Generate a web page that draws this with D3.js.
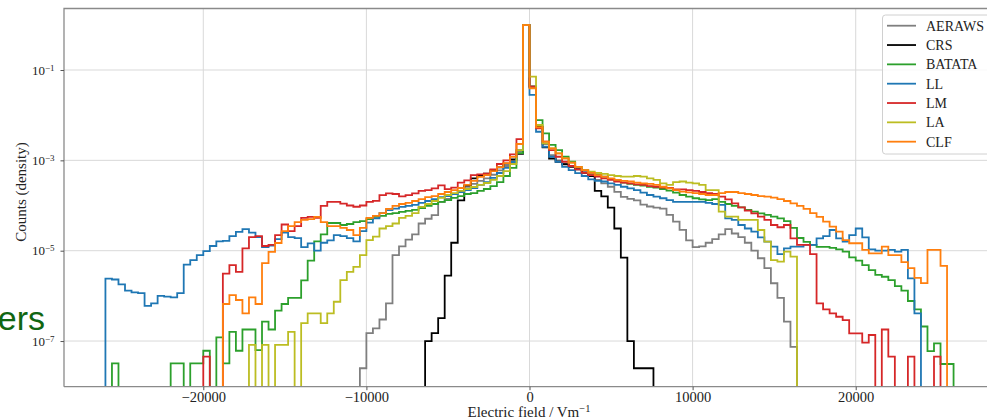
<!DOCTYPE html>
<html><head><meta charset="utf-8">
<script src="https://cdn.jsdelivr.net/npm/d3@7"></script>
<style>body{margin:0;background:#fff}svg{display:block}</style>
</head><body>
<svg id="chart" width="987" height="420"></svg>
<script>
// ---- histogram bins (Electric field, V/m) ----
const binStart = -26000, binWidth = 400, binCount = 130;

// ---- series (density per bin, 0 = empty bin), bins 0..129 ----
const AERAWS = [
0,0,0,0,0,0,0,0,0,0,
0,0,0,0,0,0,0,0,0,0,
0,0,0,0,0,0,0,0,0,0,
0,0,0,0,0,0,0,0,0,2.5e-8,
1.5e-7,1.9e-7,3.0e-7,6.8e-7,8.0e-6,1.25e-5,1.75e-5,2.3e-5,4.0e-5,5.1e-5,
6.1e-5,1.2e-4,1.4e-4,1.8e-4,2.1e-4,2.6e-4,3.0e-4,3.5e-4,4.0e-4,4.8e-4,
6.0e-4,7.5e-4,1.0e-3,1.6e-3,0.99,4.3e-2,5.5e-3,2.3e-3,1.3e-3,1.0e-3,
8.5e-4,7.5e-4,6.5e-4,5.6e-4,4.8e-4,3.7e-4,3.1e-4,2.6e-4,2.0e-4,1.55e-4,
1.4e-4,1.3e-4,1.05e-4,9.5e-5,9.0e-5,8.5e-5,6.2e-5,4.4e-5,2.9e-5,1.7e-5,
1.2e-5,1.25e-5,1.5e-5,1.8e-5,2.3e-5,3.0e-5,2.4e-5,2.0e-5,1.5e-5,1.0e-5,
6.8e-6,4.1e-6,1.9e-6,9.0e-7,2.7e-7,7.4e-8,0,0,0,0,
0,0,0,0,0,0,0,0,0,0,
0,0,0,0,0,0,0,0,0,0];
const CRS = [
0,0,0,0,0,0,0,0,0,0,
0,0,0,0,0,0,0,0,0,0,
0,0,0,0,0,0,0,0,0,0,
0,0,0,0,0,0,0,0,0,0,
0,0,0,0,0,0,0,0,0,1.0e-7,
1.5e-7,3.2e-7,2.8e-6,1.5e-5,1.3e-4,2.8e-4,4.0e-4,4.6e-4,5.1e-4,6.0e-4,
7.0e-4,8.5e-4,1.05e-3,1.4e-3,0.99,4.3e-2,5.6e-3,1.95e-3,1.1e-3,9.3e-4,
8.2e-4,7.2e-4,6.3e-4,5.3e-4,4.5e-4,2.1e-4,1.6e-4,9.0e-5,3.1e-5,7.0e-6,
1.0e-7,2.5e-8,2.5e-8,2.5e-8,0,0,0,0,0,0,
0,0,0,0,0,0,0,0,0,0,
0,0,0,0,0,0,0,0,0,0,
0,0,0,0,0,0,0,0,0,0,
0,0,0,0,0,0,0,0,0,0];
const BATATA = [
0,3.2e-8,0,0,0,0,0,0,0,0,
3.2e-8,3.2e-8,0,3.2e-8,3.2e-8,6.1e-8,0,1.2e-7,3.2e-8,1.6e-7,
6.1e-8,1.8e-7,1.8e-7,6.3e-8,2.7e-7,1.8e-7,4.7e-7,6.6e-7,9.0e-7,9.0e-7,
2.2e-6,6.0e-6,1.6e-5,2.3e-5,4.1e-5,4.1e-5,3.7e-5,3.9e-5,4.3e-5,4.5e-5,
5.0e-5,5.6e-5,5.9e-5,6.5e-5,6.8e-5,7.2e-5,7.6e-5,8.0e-5,8.8e-5,9.8e-5,
1.08e-4,1.2e-4,1.32e-4,1.47e-4,1.62e-4,1.8e-4,1.89e-4,2.1e-4,2.32e-4,2.7e-4,
3.3e-4,4.5e-4,6.8e-4,1.45e-3,0.99,4.27e-2,7.8e-3,3.97e-3,2.19e-3,1.69e-3,
1.2e-3,9.3e-4,7.2e-4,6.1e-4,5.3e-4,4.9e-4,4.35e-4,3.9e-4,3.5e-4,3.2e-4,
3.0e-4,2.85e-4,2.75e-4,2.6e-4,2.48e-4,2.32e-4,2.13e-4,1.92e-4,1.71e-4,1.57e-4,
1.45e-4,1.37e-4,1.32e-4,1.39e-4,1.21e-4,1.08e-4,9.8e-5,9.1e-5,8.0e-5,7.3e-5,
6.7e-5,6.2e-5,5.65e-5,5.2e-5,4.5e-5,3.2e-5,1.91e-5,1.56e-5,1.34e-5,1.21e-5,
1.21e-5,1.15e-5,1.07e-5,9.5e-6,7.1e-6,6.0e-6,4.8e-6,3.7e-6,2.9e-6,2.65e-6,
2.24e-6,1.65e-6,1.3e-6,7.7e-7,5.0e-7,2.1e-7,6.0e-8,8.9e-8,3.1e-8,3.1e-8];
const LL = [
2.4e-6,2.3e-6,1.8e-6,1.3e-6,1.2e-6,1.15e-6,6.0e-7,6.8e-7,1.0e-6,9.6e-7,
9.3e-7,1.15e-6,4.9e-6,6.2e-6,8.0e-6,9.8e-6,1.27e-5,1.6e-5,1.65e-5,2.1e-5,
2.6e-5,3.0e-5,2.5e-5,2.0e-5,1.2e-5,1.3e-5,1.8e-5,2.5e-5,2.0e-5,1.9e-5,
1.2e-5,1.45e-5,1.0e-5,1.5e-5,1.7e-5,2.2e-5,2.1e-5,1.9e-5,1.6e-5,2.7e-5,
4.2e-5,5.2e-5,6.8e-5,7.9e-5,8.5e-5,9.3e-5,9.8e-5,1.03e-4,1.14e-4,1.26e-4,
1.39e-4,1.54e-4,1.62e-4,1.8e-4,1.99e-4,2.2e-4,2.44e-4,2.85e-4,3.3e-4,4.1e-4,
5.25e-4,6.8e-4,9.2e-4,1.69e-3,0.99,2.8e-2,4.3e-3,2.0e-3,1.2e-3,9.3e-4,
7.2e-4,6.1e-4,5.2e-4,4.5e-4,3.8e-4,3.5e-4,3.4e-4,3.1e-4,2.85e-4,2.6e-4,
2.4e-4,2.2e-4,1.92e-4,1.71e-4,1.57e-4,1.45e-4,1.32e-4,1.21e-4,1.21e-4,1.21e-4,
1.2e-4,1.2e-4,1.14e-4,1.08e-4,1.03e-4,5.2e-5,4.8e-5,3.7e-5,3.1e-5,2.63e-5,
1.98e-5,1.58e-5,1.23e-5,8.4e-6,1.13e-5,1.23e-5,1.23e-5,1.34e-5,1.34e-5,1.88e-5,
2.11e-5,2.87e-5,1.88e-5,1.58e-5,2.22e-5,3.1e-5,1.98e-5,1.07e-5,1.0e-5,1.0e-5,
1.04e-5,9.5e-6,1.04e-5,2.45e-6,4.1e-7,0,0,0,0,0];
const LM = [
0,0,0,0,0,0,0,0,0,0,
0,0,0,0,0,4.5e-8,0,0,3.1e-6,4.8e-6,
3.4e-6,1.13e-5,2.0e-5,2.1e-5,1.27e-5,1.34e-5,2.2e-5,3.8e-5,2.7e-5,3.5e-5,
5.3e-5,5.6e-5,5.3e-5,9.8e-5,1.2e-4,1.2e-4,1.1e-4,1.0e-4,9.4e-5,1.0e-4,
1.2e-4,1.27e-4,1.7e-4,1.86e-4,1.8e-4,1.6e-4,1.7e-4,1.86e-4,2.1e-4,2.2e-4,
2.4e-4,2.8e-4,2.3e-4,2.5e-4,3.2e-4,3.6e-4,4.7e-4,4.9e-4,5.1e-4,6.3e-4,
8.3e-4,1.0e-3,1.36e-3,2.95e-3,0.99,4.27e-2,5.1e-3,2.59e-3,1.69e-3,1.2e-3,
9.3e-4,7.5e-4,6.3e-4,5.3e-4,4.7e-4,4.35e-4,4.0e-4,3.7e-4,3.4e-4,3.2e-4,
3.1e-4,2.95e-4,2.85e-4,2.7e-4,2.6e-4,2.5e-4,2.44e-4,2.28e-4,2.28e-4,2.2e-4,
2.1e-4,1.99e-4,1.89e-4,1.8e-4,1.57e-4,1.37e-4,1.12e-4,9.1e-5,7.7e-5,6.7e-5,
5.65e-5,4.8e-5,3.7e-5,3.3e-5,3.7e-5,1.88e-5,1.34e-5,1.34e-5,8.4e-6,6.8e-7,
5.0e-7,4.1e-7,3.45e-7,2.9e-7,1.48e-7,1.48e-7,9.2e-8,1.36e-7,0,1.8e-7,
4.5e-8,0,0,4.5e-8,0,0,0,4.5e-8,0,0];
const LA = [
0,0,0,0,0,0,0,0,0,0,
0,0,0,0,0,0,0,0,0,0,
0,0,8.2e-8,0,8.2e-8,0,8.2e-8,8.2e-8,1.6e-7,0,
2.5e-7,4.1e-7,4.1e-7,2.5e-7,4.1e-7,7.4e-7,2.24e-6,3.4e-6,4.4e-6,8.0e-6,
1.72e-5,2.04e-5,3.1e-5,3.5e-5,4.0e-5,5.3e-5,5.9e-5,6.8e-5,9.3e-5,1.08e-4,
1.26e-4,1.47e-4,1.71e-4,1.89e-4,2.1e-4,2.32e-4,2.57e-4,2.85e-4,3.15e-4,3.7e-4,
4.5e-4,5.8e-4,8.3e-4,1.69e-3,0.99,7.1e-2,6.06e-3,2.38e-3,1.85e-3,1.43e-3,
1.11e-3,8.9e-4,7.2e-4,6.1e-4,5.6e-4,5.3e-4,5.0e-4,4.7e-4,4.5e-4,4.35e-4,
4.35e-4,4.5e-4,4.35e-4,4.0e-4,3.7e-4,3.1e-4,2.85e-4,3.3e-4,3.4e-4,3.2e-4,
3.1e-4,2.85e-4,2.2e-4,2.2e-4,7.3e-5,5.65e-5,5.65e-5,4.8e-5,4.8e-5,4.8e-5,
2.87e-5,1.58e-5,6.2e-6,5.7e-6,9.5e-6,7.4e-6,0,0,0,0,
0,0,0,0,0,0,0,0,0,0,
0,0,0,0,0,0,0,0,0,0];
const CLF = [
0,0,0,0,0,0,0,0,0,0,
0,0,0,0,0,0,0,0,6.6e-7,1.04e-6,
8.1e-7,4.1e-7,9.3e-7,6.6e-7,5.3e-6,9.4e-6,1.48e-5,2.7e-5,3.5e-5,4.3e-5,
4.8e-5,5.0e-5,5.6e-5,4.3e-5,3.5e-5,3.5e-5,3.2e-5,2.87e-5,2.22e-5,3.2e-5,
5.3e-5,5.9e-5,6.8e-5,8.4e-5,9.8e-5,1.08e-4,1.14e-4,1.26e-4,1.39e-4,1.54e-4,
1.62e-4,1.8e-4,1.99e-4,2.2e-4,2.44e-4,2.85e-4,3.5e-4,4.3e-4,4.7e-4,5.8e-4,
7.1e-4,8.7e-4,1.19e-3,2.3e-3,0.99,3.94e-2,5.4e-3,2.59e-3,1.85e-3,1.43e-3,
1.11e-3,8.9e-4,7.2e-4,6.1e-4,5.3e-4,4.7e-4,4.35e-4,4.0e-4,3.7e-4,3.5e-4,
3.4e-4,3.2e-4,3.1e-4,3.0e-4,2.85e-4,2.6e-4,2.4e-4,2.2e-4,2.02e-4,1.96e-4,
1.89e-4,1.8e-4,1.71e-4,1.71e-4,1.89e-4,1.99e-4,1.99e-4,1.89e-4,1.8e-4,1.71e-4,
1.62e-4,1.57e-4,1.5e-4,1.39e-4,1.26e-4,1.12e-4,9.8e-5,8.4e-5,6.8e-5,5.6e-5,
4.4e-5,3.4e-5,2.63e-5,1.72e-5,1.46e-5,1.46e-5,1.04e-5,8.75e-6,8.75e-6,1.23e-5,
8.0e-6,8.0e-6,5.6e-6,4.1e-6,2.5e-6,1.92e-6,1.04e-5,1.04e-5,4.6e-6,0];

const seriesNames = ["AERAWS", "CRS", "BATATA", "LL", "LM", "LA", "CLF"];
const seriesValues = [AERAWS, CRS, BATATA, LL, LM, LA, CLF];
const seriesColors = ["#7f7f7f", "#000000", "#2ca02c", "#1f77b4", "#d62728", "#bcbd22", "#ff7f0e"];
const xTicks = [-20000, -10000, 0, 10000, 20000];
const yTicks = [1e-1, 1e-3, 1e-5, 1e-7];
const yTickExponents = ["\u22121", "\u22123", "\u22125", "\u22127"];

// ---- layout ----
const svg = d3.select("#chart");
const P = {l: 64, r: 995, t: 8.5, b: 386.7};
const serif = "'Liberation Serif','Times New Roman',serif";

const x = d3.scaleLinear().domain([-28540, 28540]).range([P.l, P.r]);
const y = d3.scaleLog().domain([Math.pow(10, -8.011), Math.pow(10, 0.3615)]).range([P.b, P.t]);
const edges = d3.range(binCount + 1).map(i => binStart + i * binWidth);

svg.append("rect").attr("width", 987).attr("height", 420).attr("fill", "#fff");

svg.append("defs").append("clipPath").attr("id", "clip")
  .append("rect").attr("x", P.l).attr("y", P.t).attr("width", P.r - P.l).attr("height", P.b - P.t);

// grid
const grid = svg.append("g").attr("stroke", "#d9d9d9").attr("stroke-width", 1);
grid.selectAll("line.gx").data(xTicks).join("line")
  .attr("x1", d => x(d)).attr("x2", d => x(d)).attr("y1", P.t).attr("y2", P.b);
grid.selectAll("line.gy").data(yTicks).join("line")
  .attr("y1", d => y(d)).attr("y2", d => y(d)).attr("x1", P.l).attr("x2", P.r);

// step histograms
const below = P.b + 6;
const line = d3.line().x(d => d[0]).y(d => d[1]);
function stepPoints(vals) {
  const pts = [[x(edges[0]), below]];
  vals.forEach((v, i) => {
    const yy = v > 0 ? y(v) : below;
    pts.push([x(edges[i]), yy], [x(edges[i + 1]), yy]);
  });
  pts.push([x(edges[vals.length]), below]);
  return pts;
}
const hist = svg.append("g").attr("clip-path", "url(#clip)");
seriesValues.forEach((vals, k) => {
  hist.append("path").attr("d", line(stepPoints(vals)))
    .attr("fill", "none").attr("stroke", seriesColors[k])
    .attr("stroke-width", 1.8).attr("stroke-linejoin", "miter");
});

// spines
const spine = svg.append("g").attr("stroke", "#8a8a8a").attr("stroke-width", 1.3).attr("fill", "none");
spine.append("path").attr("d", `M${P.l},${P.b}V${P.t}H${P.r}`);
spine.append("path").attr("d", `M${P.l},${P.b}H${P.r}`);

// axes
const xAxis = svg.append("g").attr("transform", `translate(0,${P.b})`)
  .call(d3.axisBottom(x).tickValues(xTicks).tickSize(3.5).tickPadding(2).tickFormat(d3.format("d")));
xAxis.select(".domain").remove();
xAxis.selectAll("line").attr("stroke", "#555");
xAxis.selectAll("text").attr("font-family", serif).attr("font-size", 14.5).attr("fill", "#222");

const yAxis = svg.append("g").attr("transform", `translate(${P.l},0)`)
  .call(d3.axisLeft(y).tickValues(yTicks).tickSize(3.5).tickPadding(6).tickFormat(() => ""));
yAxis.select(".domain").remove();
yAxis.selectAll("line").attr("stroke", "#555");
yAxis.selectAll(".tick text").each(function(d, i) {
  const t = d3.select(this).attr("font-family", serif).attr("font-size", 13).attr("fill", "#222");
  t.append("tspan").text("10");
  t.append("tspan").attr("dy", "-0.45em").attr("font-size", 9).text(yTickExponents[i]);
});

// axis labels
const xl = svg.append("text").attr("x", 529).attr("y", 417).attr("text-anchor", "middle")
  .attr("font-family", serif).attr("font-size", 15).attr("fill", "#222");
xl.append("tspan").text("Electric field / Vm");
xl.append("tspan").attr("dy", "-0.45em").attr("font-size", 10.5).text("\u22121");

svg.append("text").attr("transform", "translate(26,192) rotate(-90)").attr("text-anchor", "middle")
  .attr("font-family", serif).attr("font-size", 15).attr("fill", "#222").text("Counts (density)");

// legend
const lg = svg.append("g");
lg.append("rect").attr("x", 882.5).attr("y", 15).attr("width", 130).attr("height", 139).attr("rx", 3)
  .attr("fill", "#fff").attr("fill-opacity", 0.85).attr("stroke", "#d0d0d0");
seriesNames.forEach((n, k) => {
  const cy = 25.7 + k * 19.33;
  lg.append("line").attr("x1", 887).attr("x2", 916).attr("y1", cy).attr("y2", cy)
    .attr("stroke", seriesColors[k]).attr("stroke-width", 1.8);
  lg.append("text").attr("x", 926).attr("y", cy + 5).attr("font-family", serif).attr("font-size", 14)
    .attr("fill", "#222").text(n);
});

// overlaid slide text fragment
svg.append("text").attr("x", 45).attr("y", 330).attr("text-anchor", "end")
  .attr("font-family", "'Liberation Sans',Arial,sans-serif").attr("font-size", 34)
  .attr("fill", "#116611").text("ers");
</script>
</body></html>
